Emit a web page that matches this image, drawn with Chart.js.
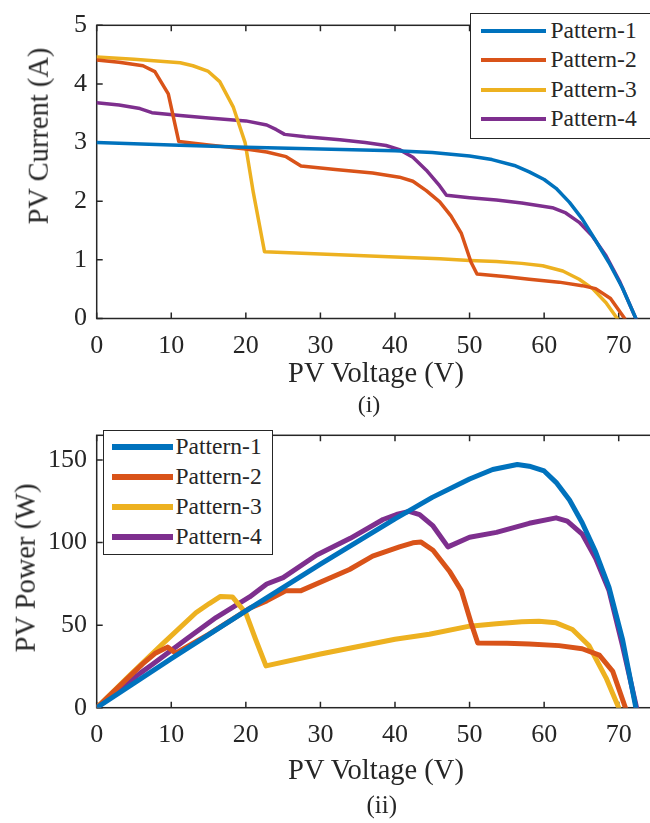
<!DOCTYPE html>
<html>
<head>
<meta charset="utf-8">
<script src="https://cdn.jsdelivr.net/npm/chart.js@4.4.1/dist/chart.umd.min.js"></script>
<style>
  html, body { margin:0; padding:0; background:#fff; }
  body { width:650px; height:823px; overflow:hidden; position:relative; font-family:'Liberation Serif', 'Times New Roman', serif; color:#262626; }
  .cv { position:absolute; left:0; }
  .txt { position:absolute; white-space:nowrap; line-height:1; }
  .legend { position:absolute; background:#fff; border:1.5px solid #262626; box-sizing:border-box; }
  .lgline { position:absolute; }
</style>
</head>
<body>
<div class="cv" style="top:0;width:660px;height:400px;"><canvas id="c1" width="660" height="400"></canvas></div>
<div class="cv" style="top:410px;width:660px;height:413px;"><canvas id="c2" width="660" height="413"></canvas></div>

<div class="txt" style="font-size:28.5px;left:376px;top:359px;transform:translateX(-50%);">PV Voltage (V)</div>
<div class="txt" style="font-size:24px;left:369px;top:392px;transform:translateX(-50%);">(i)</div>
<div class="txt" style="font-size:28.5px;left:39px;top:136px;transform:translate(-50%,-50%) rotate(-90deg);">PV Current (A)</div>

<div class="txt" style="font-size:28.5px;left:376px;top:755.5px;transform:translateX(-50%);">PV Voltage (V)</div>
<div class="txt" style="font-size:25px;left:381.7px;top:792.4px;transform:translateX(-50%);">(ii)</div>
<div class="txt" style="font-size:28.5px;left:26px;top:568px;transform:translate(-50%,-50%) rotate(-90deg);">PV Power (W)</div>

<div id="leg1" class="legend" style="left:470px;top:13px;width:200px;height:125.5px;"></div>
<div id="leg2" class="legend" style="left:102.5px;top:430px;width:170.5px;height:125px;"></div>

<script>
// ---------------- data ----------------
const seriesNames = ['Pattern-1', 'Pattern-2', 'Pattern-3', 'Pattern-4'];
const seriesColors = ['#0072BD', '#D95319', '#EDB120', '#7E2F8E'];

const xTicks = [0, 10, 20, 30, 40, 50, 60, 70];
const yTicksI = [0, 1, 2, 3, 4, 5];
const yTicksP = [0, 50, 100, 150];

// (i) I-V curves: voltage (V) and current (A)
const ivV1 = [0, 10, 20, 30, 40, 45, 50, 53, 56, 58, 60, 61.6, 63.4, 65.1, 66.9, 68.7, 70.5, 72.3];
const ivI1 = [3.00, 2.96, 2.92, 2.89, 2.86, 2.83, 2.77, 2.71, 2.61, 2.50, 2.37, 2.22, 1.98, 1.70, 1.33, 0.95, 0.52, 0];

const ivV2 = [0, 3, 6.2, 7.8, 9.6, 11, 15, 20, 22.8, 25.4, 27.4, 32, 37, 40.6, 42.4, 44.2, 46, 47.5, 48.9, 50.2, 51, 55, 58, 62, 65.1, 66.9, 68.9, 70.8];
const ivI2 = [4.41, 4.37, 4.31, 4.21, 3.83, 3.02, 2.96, 2.89, 2.84, 2.76, 2.60, 2.54, 2.48, 2.41, 2.34, 2.18, 1.99, 1.75, 1.45, 0.96, 0.76, 0.71, 0.67, 0.62, 0.56, 0.51, 0.34, 0];

const ivV3 = [0, 5, 11.2, 12.9, 14.9, 16.5, 18.3, 19.9, 21, 22.5, 30, 40, 46, 50, 53.6, 57, 59.8, 62.5, 64.7, 66.5, 68.3, 69.8];
const ivI3 = [4.46, 4.42, 4.36, 4.31, 4.22, 4.04, 3.61, 3.00, 2.15, 1.14, 1.10, 1.05, 1.02, 0.99, 0.97, 0.94, 0.90, 0.81, 0.67, 0.51, 0.27, 0];

const ivV4 = [0, 3, 5.8, 7.4, 11.2, 15, 20, 22.8, 24.1, 25.2, 28, 32.6, 36, 38.8, 40.6, 42.4, 44.2, 46, 46.9, 50, 53.6, 57, 61.1, 62.9, 64.7, 66.5, 68.3, 70.1, 72.3];
const ivI4 = [3.68, 3.64, 3.58, 3.51, 3.46, 3.42, 3.37, 3.30, 3.22, 3.14, 3.10, 3.05, 3.00, 2.95, 2.88, 2.75, 2.53, 2.26, 2.10, 2.06, 2.02, 1.97, 1.89, 1.80, 1.64, 1.40, 1.07, 0.64, 0];

// (ii) P-V curves: voltage (V) and power (W)
const pvV1 = [0, 10, 20, 30, 40, 45, 50, 53.1, 56.4, 58, 60, 61.6, 63.4, 65.1, 66.9, 68.7, 70.5, 72.3];
const pvP1 = [0, 29.7, 58.6, 87.0, 114.4, 127.4, 138.5, 144.3, 147.3, 146.3, 143.4, 136.5, 125.8, 112.0, 94.4, 72.9, 41.6, 0];

const pvV2 = [0, 6.2, 7.8, 9.5, 10.6, 15, 20.5, 22.8, 25.4, 27.4, 33.9, 37, 40.6, 42.4, 43.5, 45.1, 47.3, 48.9, 50.2, 51.1, 55, 58, 62, 65.1, 67.4, 69.2, 70.9];
const pvP2 = [0, 26.7, 32.8, 36.7, 33.0, 44.4, 60.2, 64.7, 70.9, 70.9, 83.7, 91.8, 97.4, 99.9, 100.3, 95.4, 82.7, 70.9, 51.4, 39.2, 39.0, 38.6, 37.6, 35.7, 31.8, 22.0, 0];

const pvV3 = [0, 4.4, 8.8, 13.3, 15.1, 16.6, 18.2, 20, 21.3, 22.7, 30, 40, 44.6, 50, 53.6, 57, 59.3, 61.6, 63.8, 66, 68.3, 70];
const pvP3 = [0, 19.5, 38.5, 57.5, 63.1, 67.4, 67.1, 57.3, 41.6, 25.3, 32.5, 41.5, 44.5, 49.4, 50.8, 52.0, 52.4, 51.4, 47.4, 37.7, 18.1, 0];

const pvV4 = [0, 5.8, 7.4, 12, 16, 20.5, 22.8, 25, 29.5, 34, 38.4, 40.2, 41.9, 43.3, 45.1, 47.1, 50, 53.6, 58, 61.6, 63.1, 65.1, 66.9, 68.7, 70.5, 72.4];
const pvP4 = [0, 20.8, 26.0, 41.5, 54.6, 67.1, 74.9, 78.8, 92.5, 102.6, 114.0, 117.0, 118.9, 117.0, 110.1, 97.4, 103.2, 106.2, 111.7, 115.0, 113.0, 105.2, 90.5, 70.9, 37.7, 0];

// ---------------- helpers ----------------
const FONT = "'Liberation Serif', 'Times New Roman', serif";
const AXC = '#262626';
Chart.defaults.font.family = FONT;

function pts(xs, ys) { return xs.map((v, i) => ({ x: v, y: ys[i] })); }

const matlabAxes = {
  id: 'matlabAxes',
  beforeDatasetsDraw(chart) {
    const { ctx, chartArea: a, scales: { x, y } } = chart;
    ctx.save();
    ctx.strokeStyle = AXC;
    ctx.lineWidth = 1.5;
    ctx.strokeRect(a.left, a.top, a.right - a.left, a.bottom - a.top);
    const L = 6;
    ctx.beginPath();
    x.ticks.forEach(t => {
      const px = x.getPixelForValue(t.value);
      ctx.moveTo(px, a.bottom); ctx.lineTo(px, a.bottom - L);
      ctx.moveTo(px, a.top); ctx.lineTo(px, a.top + L);
    });
    y.ticks.forEach(t => {
      const py = y.getPixelForValue(t.value);
      ctx.moveTo(a.left, py); ctx.lineTo(a.left + L, py);
      ctx.moveTo(a.right, py); ctx.lineTo(a.right - L, py);
    });
    ctx.stroke();
    ctx.restore();
  }
};

function makeChart(id, sets, lw, yMax, yTicks, padTop, canvasH, plotBottom) {
  const datasets = sets.map((s, i) => ({
    label: seriesNames[i],
    data: pts(s[0], s[1]),
    showLine: true,
    borderColor: seriesColors[i],
    backgroundColor: seriesColors[i],
    borderWidth: lw,
    pointRadius: 0,
    tension: 0,
    borderJoinStyle: 'round',
    borderCapStyle: 'round'
  }));
  return new Chart(document.getElementById(id), {
    type: 'scatter',
    data: { datasets },
    plugins: [matlabAxes],
    options: {
      responsive: false,
      animation: false,
      devicePixelRatio: 1,
      layout: { padding: { top: padTop, right: 4, left: 0, bottom: 0 } },
      plugins: { legend: { display: false }, tooltip: { enabled: false } },
      scales: {
        x: {
          type: 'linear', min: 0, max: 75,
          afterBuildTicks: s => { s.ticks = xTicks.map(v => ({ value: v })); },
          afterFit: s => { s.height = canvasH - plotBottom; },
          grid: { display: false, drawTicks: false },
          border: { display: false },
          ticks: { font: { family: FONT, size: 26 }, color: AXC, padding: 12, maxRotation: 0, autoSkip: false }
        },
        y: {
          type: 'linear', min: 0, max: yMax,
          afterBuildTicks: s => { s.ticks = yTicks.map(v => ({ value: v })); },
          afterFit: s => { s.width = 96.7; },
          grid: { display: false, drawTicks: false },
          border: { display: false },
          ticks: { font: { family: FONT, size: 26 }, color: AXC, padding: 9.7, autoSkip: false }
        }
      }
    }
  });
}

makeChart('c1', [[ivV1, ivI1], [ivV2, ivI2], [ivV3, ivI3], [ivV4, ivI4]], 3.5, 5, yTicksI, 11.5, 400, 318.5);
makeChart('c2', [[pvV1, pvP1], [pvV2, pvP2], [pvV3, pvP3], [pvV4, pvP4]], 5, 165, yTicksP, 17, 413, 297.7);

// ---------------- legends (HTML) ----------------
function buildLegend(elId, boxLeft, boxTop, lineX0, lineX1, textX, rowYs, lineW, fontSize) {
  const el = document.getElementById(elId);
  seriesNames.forEach((name, i) => {
    const ln = document.createElement('div');
    ln.className = 'lgline';
    ln.style.left = (lineX0 - boxLeft - 1.5) + 'px';
    ln.style.width = (lineX1 - lineX0) + 'px';
    ln.style.top = (rowYs[i] - boxTop - 1.5 - lineW / 2) + 'px';
    ln.style.height = lineW + 'px';
    ln.style.background = seriesColors[i];
    el.appendChild(ln);
    const tx = document.createElement('div');
    tx.className = 'txt';
    tx.style.fontSize = fontSize + 'px';
    tx.style.left = (textX - boxLeft - 1.5) + 'px';
    const baseline = rowYs[i] + 8;
    tx.style.top = (baseline - boxTop - 1.5 - (fontSize * 0.891 + (fontSize - fontSize * 1.107) / 2)) + 'px';
    tx.textContent = name;
    el.appendChild(tx);
  });
}
buildLegend('leg1', 470, 13, 481, 546, 551, [31, 60.5, 90, 119.5], 4, 23.5);
buildLegend('leg2', 102.5, 430, 112, 173, 176, [447.5, 477.5, 507.5, 537.5], 6, 23.5);
</script>
</body>
</html>
